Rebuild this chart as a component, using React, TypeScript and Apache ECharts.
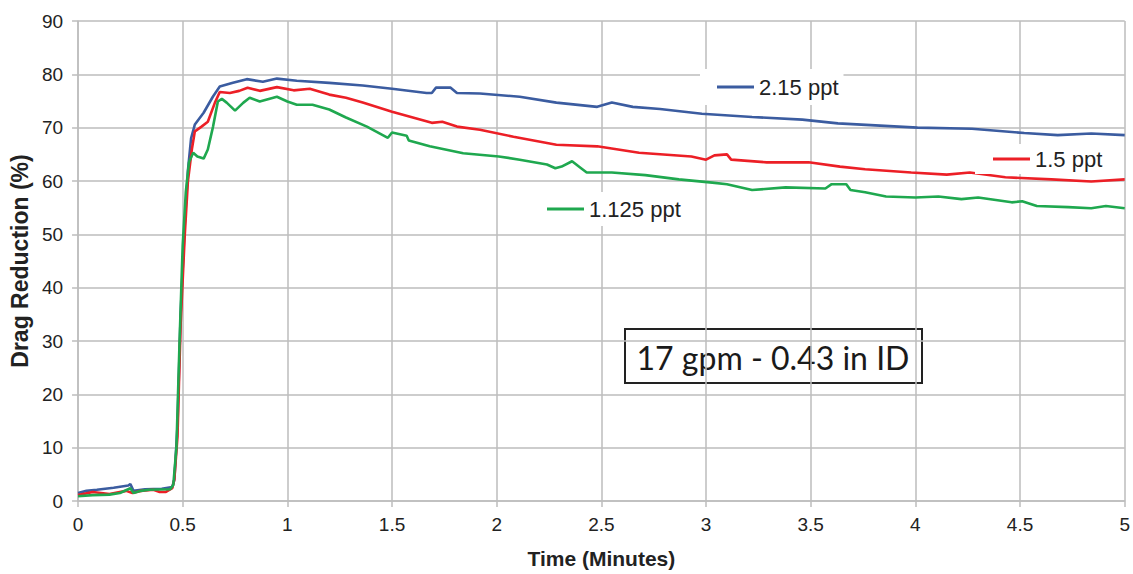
import React, { useEffect, useRef } from "react";
import * as echarts from "echarts";

// [time (minutes), drag reduction (%)]
const ppt215: [number, number][] = [
  [0, 1.5], [0.04, 1.9], [0.09, 2.1], [0.17, 2.5], [0.24, 2.9], [0.25, 3.2], [0.265, 1.9],
  [0.32, 2.2], [0.4, 2.3], [0.45, 2.6], [0.46, 4], [0.475, 14], [0.49, 35], [0.51, 52],
  [0.525, 62], [0.54, 68], [0.558, 70.6], [0.6, 72.8], [0.644, 75.8], [0.677, 77.7],
  [0.74, 78.4], [0.806, 79.1], [0.883, 78.6], [0.95, 79.2], [1.045, 78.8], [1.2, 78.4],
  [1.36, 77.9], [1.5, 77.3], [1.665, 76.5], [1.69, 76.5], [1.71, 77.5], [1.78, 77.5],
  [1.81, 76.5], [1.92, 76.4], [2.11, 75.8], [2.285, 74.7], [2.48, 73.9], [2.55, 74.7],
  [2.65, 73.9], [2.78, 73.5], [2.98, 72.6], [3.22, 72.0], [3.46, 71.5], [3.63, 70.8],
  [4.01, 70.0], [4.27, 69.8], [4.52, 69.0], [4.68, 68.6], [4.84, 68.9], [5.0, 68.6],
];

const ppt15: [number, number][] = [
  [0, 1.1], [0.07, 1.7], [0.15, 1.3], [0.23, 1.9], [0.26, 1.5], [0.3, 1.9], [0.36, 2.1],
  [0.39, 1.7], [0.42, 1.7], [0.45, 2.4], [0.46, 4], [0.475, 12], [0.49, 33], [0.51, 50],
  [0.525, 60], [0.544, 66], [0.558, 69.3], [0.59, 70.2], [0.62, 71.1], [0.654, 74.7],
  [0.677, 76.7], [0.725, 76.5], [0.77, 76.9], [0.81, 77.5], [0.868, 76.9], [0.95, 77.6],
  [1.03, 77.0], [1.107, 77.3], [1.2, 76.2], [1.28, 75.6], [1.36, 74.7], [1.5, 73.0],
  [1.69, 70.9], [1.74, 71.1], [1.81, 70.2], [1.92, 69.6], [2.08, 68.3], [2.285, 66.8],
  [2.48, 66.5], [2.68, 65.3], [2.93, 64.6], [3.0, 64.0], [3.04, 64.8], [3.1, 65.0],
  [3.12, 64.0], [3.29, 63.5], [3.49, 63.5], [3.64, 62.7], [3.76, 62.2], [3.98, 61.6],
  [4.15, 61.2], [4.26, 61.6], [4.43, 60.7], [4.65, 60.3], [4.84, 59.9], [5.0, 60.3],
];

const ppt1125: [number, number][] = [
  [0, 0.9], [0.07, 1.1], [0.15, 1.2], [0.2, 1.5], [0.25, 2.4], [0.265, 1.5], [0.3, 1.9],
  [0.34, 2.1], [0.44, 2.2], [0.455, 3.0], [0.47, 10], [0.485, 30], [0.5, 48], [0.515, 58],
  [0.53, 63.5], [0.55, 65.3], [0.57, 64.6], [0.6, 64.2], [0.62, 65.9], [0.645, 70.2],
  [0.668, 74.9], [0.687, 75.4], [0.71, 74.7], [0.75, 73.2], [0.79, 74.7], [0.82, 75.6],
  [0.868, 74.9], [0.95, 75.8], [1.0, 74.9], [1.045, 74.3], [1.12, 74.3], [1.2, 73.4],
  [1.28, 71.9], [1.38, 70.2], [1.48, 68.1], [1.5, 69.1], [1.57, 68.5], [1.58, 67.6],
  [1.68, 66.5], [1.84, 65.2], [2.01, 64.6], [2.11, 64.0], [2.24, 63.1], [2.28, 62.4],
  [2.31, 62.7], [2.36, 63.7], [2.4, 62.5], [2.43, 61.6], [2.55, 61.6], [2.71, 61.1],
  [2.87, 60.3], [3.03, 59.7], [3.1, 59.4], [3.22, 58.3], [3.38, 58.8], [3.57, 58.6],
  [3.6, 59.4], [3.67, 59.4], [3.69, 58.3], [3.76, 57.9], [3.86, 57.1], [4.0, 56.9],
  [4.11, 57.1], [4.22, 56.6], [4.3, 56.9], [4.46, 56.0], [4.51, 56.2], [4.58, 55.3],
  [4.73, 55.1], [4.84, 54.9], [4.91, 55.3], [5.0, 54.9],
];

const seriesNames = ["2.15 ppt", "1.5 ppt", "1.125 ppt"];
const seriesColors = ["#3b5ca0", "#ec1f26", "#1fa84f"];
const xAxisTitle = "Time (Minutes)";
const yAxisTitle = "Drag Reduction (%)";
const annotation = "17 gpm - 0.43 in ID";

export default function App() {
  const ref = useRef<HTMLDivElement>(null);

  useEffect(() => {
    document.body.style.margin = "0";
    if (!ref.current) return;
    const chart = echarts.init(ref.current, null, { renderer: "svg" });
    const gridColor = "#bdbdbd";
    const font = "'Liberation Sans', Arial, sans-serif";
    const legendBase = {
      orient: "horizontal",
      icon: "rect",
      itemWidth: 37,
      itemHeight: 3,
      itemGap: 4,
      selectedMode: false,
      backgroundColor: "#ffffff",
      textStyle: { fontFamily: font, fontSize: 22, color: "#222" },
      z: 5,
    };
    const dataSets = [ppt215, ppt15, ppt1125];
    chart.setOption({
      animation: false,
      backgroundColor: "#ffffff",
      grid: { left: 78, right: 7, top: 21, bottom: 71 },
      xAxis: {
        type: "value",
        min: 0,
        max: 5,
        interval: 0.5,
        name: xAxisTitle,
        nameLocation: "middle",
        nameGap: 47,
        nameTextStyle: { fontFamily: font, fontSize: 21, fontWeight: "bold", color: "#222" },
        axisLine: { show: true, lineStyle: { color: gridColor, width: 1.5 } },
        axisTick: { show: true, length: 6, lineStyle: { color: gridColor, width: 1.5 } },
        axisLabel: { fontFamily: font, fontSize: 19, color: "#222", margin: 14 },
        splitLine: { show: true, lineStyle: { color: gridColor, width: 1.5 } },
      },
      yAxis: {
        type: "value",
        min: 0,
        max: 90,
        interval: 10,
        name: yAxisTitle,
        nameLocation: "middle",
        nameGap: 46,
        nameTextStyle: { fontFamily: font, fontSize: 23, fontWeight: "bold", color: "#222" },
        axisLine: { show: true, lineStyle: { color: gridColor, width: 1.5 } },
        axisTick: { show: true, length: 6, lineStyle: { color: gridColor, width: 1.5 } },
        axisLabel: { fontFamily: font, fontSize: 19, color: "#222", margin: 15 },
        splitLine: { show: true, lineStyle: { color: gridColor, width: 1.5 } },
      },
      legend: [
        { ...legendBase, data: [seriesNames[0]], left: 700, top: 69, padding: [7, 5, 7, 17] },
        { ...legendBase, data: [seriesNames[1]], left: 975, top: 144, padding: [4, 6, 4, 18] },
        { ...legendBase, data: [seriesNames[2]], left: 535, top: 192, padding: [6, 6, 6, 12] },
      ],
      series: dataSets.map((d, i) => ({
        name: seriesNames[i],
        type: "line",
        data: d,
        showSymbol: false,
        symbol: "none",
        smooth: false,
        lineStyle: { color: seriesColors[i], width: 2.6 },
        itemStyle: { color: seriesColors[i] },
        z: 3,
      })),
      graphic: [
        {
          type: "group",
          z: 100,
          children: [
            {
              type: "rect",
              shape: { x: 625, y: 329, width: 297, height: 54 },
              style: { fill: "#ffffff", stroke: "#222", lineWidth: 2 },
            },
            {
              type: "text",
              x: 773,
              y: 357,
              style: {
                text: annotation,
                fontFamily: "Lato, 'Open Sans', sans-serif",
                fontSize: 32,
                fill: "#1a1a1a",
                textAlign: "center",
                textVerticalAlign: "middle",
              },
            },
          ],
        },
      ],
    });
    return () => chart.dispose();
  }, []);

  return <div ref={ref} style={{ width: 1133, height: 574 }} />;
}
